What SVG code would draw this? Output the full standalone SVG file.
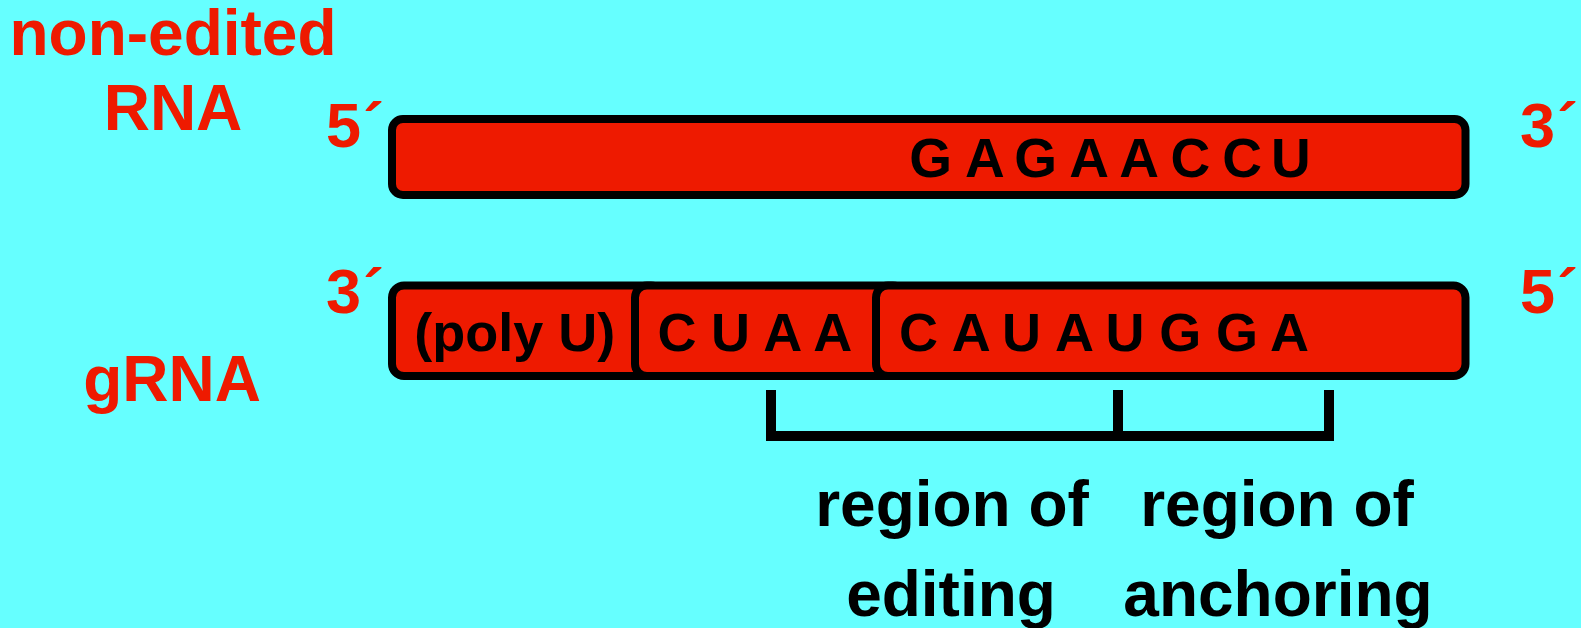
<svg xmlns="http://www.w3.org/2000/svg" width="1581" height="628" viewBox="0 0 1581 628">
  <style>
    .lbl { font-family: "Liberation Sans", Arial, Helvetica, sans-serif; font-weight: bold; fill: #EE1A00; }
    .end { font-family: "Liberation Sans", Arial, Helvetica, sans-serif; font-weight: bold; fill: #EE1A00; font-size: 63px; }
    .seq { font-family: "Liberation Sans", Arial, Helvetica, sans-serif; font-weight: bold; fill: #000; }
    .cap { font-family: "Liberation Sans", Arial, Helvetica, sans-serif; font-weight: bold; fill: #000; font-size: 64px; text-anchor: middle; }
    .bar { fill: #EE1A00; stroke: #000; stroke-width: 8; }
    .brk { fill: none; stroke: #000; stroke-width: 10; }
  </style>

  <!-- background -->
  <rect x="0" y="0" width="1581" height="628" fill="#66FFFF"/>

  <!-- strand labels on the left -->
  <g id="label-non-edited-rna">
    <text class="lbl" x="173" y="55" font-size="64" text-anchor="middle">non-edited</text>
    <text class="lbl" x="173" y="130" font-size="64" text-anchor="middle">RNA</text>
  </g>
  <g id="label-grna">
    <text class="lbl" x="172" y="401" font-size="64" text-anchor="middle">gRNA</text>
  </g>

  <!-- mRNA strand, 5' to 3' -->
  <g id="rna">
    <text class="end" x="326" y="147">5<tspan dx="2">´</tspan></text>
    <rect class="bar" x="392" y="119" width="1073.5" height="76" rx="11"/>
    <text class="seq" font-size="55" y="176.7" x="909.3 965 1014.3 1069.3 1119.3 1170.6 1222.3 1271">GAGAACCU</text>
    <text class="end" x="1520" y="147">3<tspan dx="2">´</tspan></text>
  </g>

  <!-- guide RNA, 3' to 5', built from three overlapping segments -->
  <g id="grna-polyU">
    <text class="end" x="326" y="313">3<tspan dx="2">´</tspan></text>
    <rect class="bar" x="392" y="285.5" width="271" height="90.5" rx="12"/>
    <text class="seq" font-size="54" x="514.7" y="351" text-anchor="middle">(poly U)</text>
  </g>
  <g id="grna-editing">
    <rect class="bar" x="635" y="285.5" width="270" height="90.5" rx="12"/>
    <text class="seq" font-size="54" y="351" x="657.4 711 763.3 813.3">CUAA</text>
  </g>
  <g id="grna-anchor">
    <rect class="bar" x="876" y="285.5" width="589.5" height="90.5" rx="12"/>
    <text class="seq" font-size="54" y="351" x="899 951.7 1002 1055 1105.4 1159.3 1216 1270">CAUAUGGA</text>
    <text class="end" x="1520" y="313">5<tspan dx="2">´</tspan></text>
  </g>

  <!-- bracket marking the two functional regions -->
  <g id="connectors">
    <path class="brk" d="M766 436 H1334 M771 390 V441 M1118 390 V441 M1329 390 V441"/>
  </g>

  <g id="region-editing">
    <text class="cap" x="952" y="526">region of</text>
    <text class="cap" x="951" y="616">editing</text>
  </g>
  <g id="region-anchoring">
    <text class="cap" x="1277" y="526">region of</text>
    <text class="cap" x="1278" y="616">anchoring</text>
  </g>
</svg>
